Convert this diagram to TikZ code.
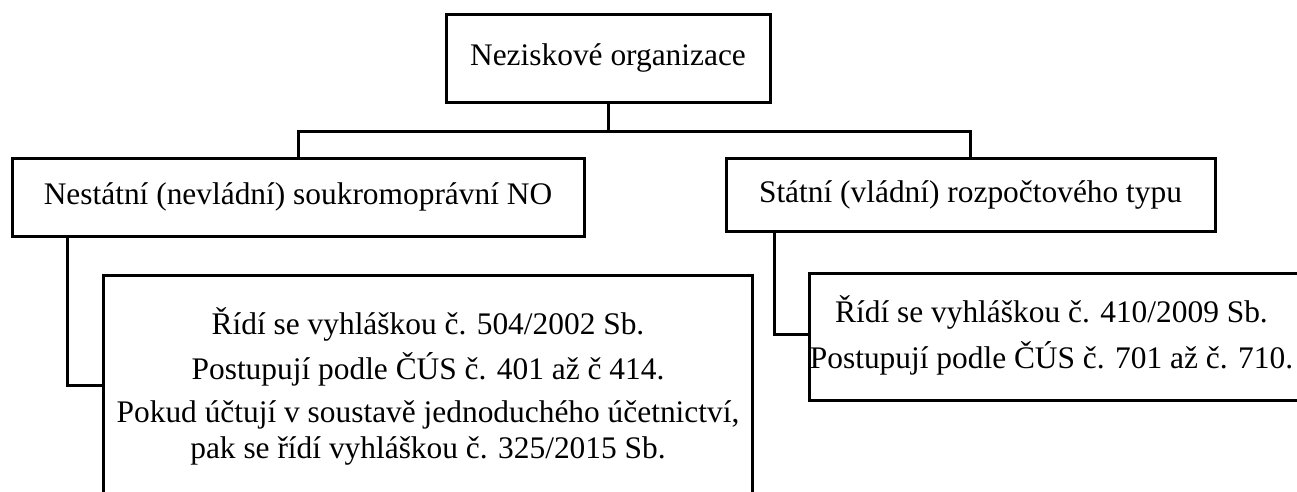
\documentclass[tikz,border=0pt]{standalone}
\usepackage{fontspec}
\setmainfont{Liberation Serif}
\begin{document}
\begin{tikzpicture}[x=1pt,y=-1pt,
  txt/.style={align=center, inner sep=0pt, font=\fontsize{31.4}{35.5}\selectfont},
  box/.style={txt, draw, line width=3pt, rectangle},
  conn/.style={line width=3pt}]
\clip (0,0) rectangle (1297,491);
\node[box, minimum width=324pt, minimum height=88pt] (top) at (608,58) {Neziskové organizace};
\node[box, minimum width=572pt, minimum height=78pt] (nst) at (298,197) {Nestátní (nevládní) soukromoprávní NO};
\node[box, minimum width=489pt, minimum height=73pt] (st) at (970.5,194.5) {Státní (vládní) rozpočtového typu};
\node[box, minimum width=649pt, minimum height=222pt, anchor=north west] (nsr) at (102,274)
  {Řídí se vyhláškou č. 504/2002 Sb.\\[9pt]
   Postupují podle ČÚS č. 401 až č 414.\\[8pt]
   Pokud účtují v soustavě jednoduchého účetnictví,\\
   pak se řídí vyhláškou č. 325/2015 Sb.};
\node[box, minimum width=520pt, minimum height=127pt, anchor=north west] (str) at (808,272) {};
\node[txt] (strt) at (1051.5,335.5)
  {Řídí se vyhláškou č. 410/2009 Sb.\\[11pt]
   Postupují podle ČÚS č. 701 až č. 710.};
\coordinate (j) at (608,131);
\draw[conn] (top.south) -- (j);
\draw[conn] (nst.north) |- (j) -| (st.north);
\draw[conn] (nst.south west) ++(57,0) |- (nsr.west |- 0,385);
\draw[conn] (st.south west) ++(50,0) |- (str.west |- 0,334);
\end{tikzpicture}
\end{document}
